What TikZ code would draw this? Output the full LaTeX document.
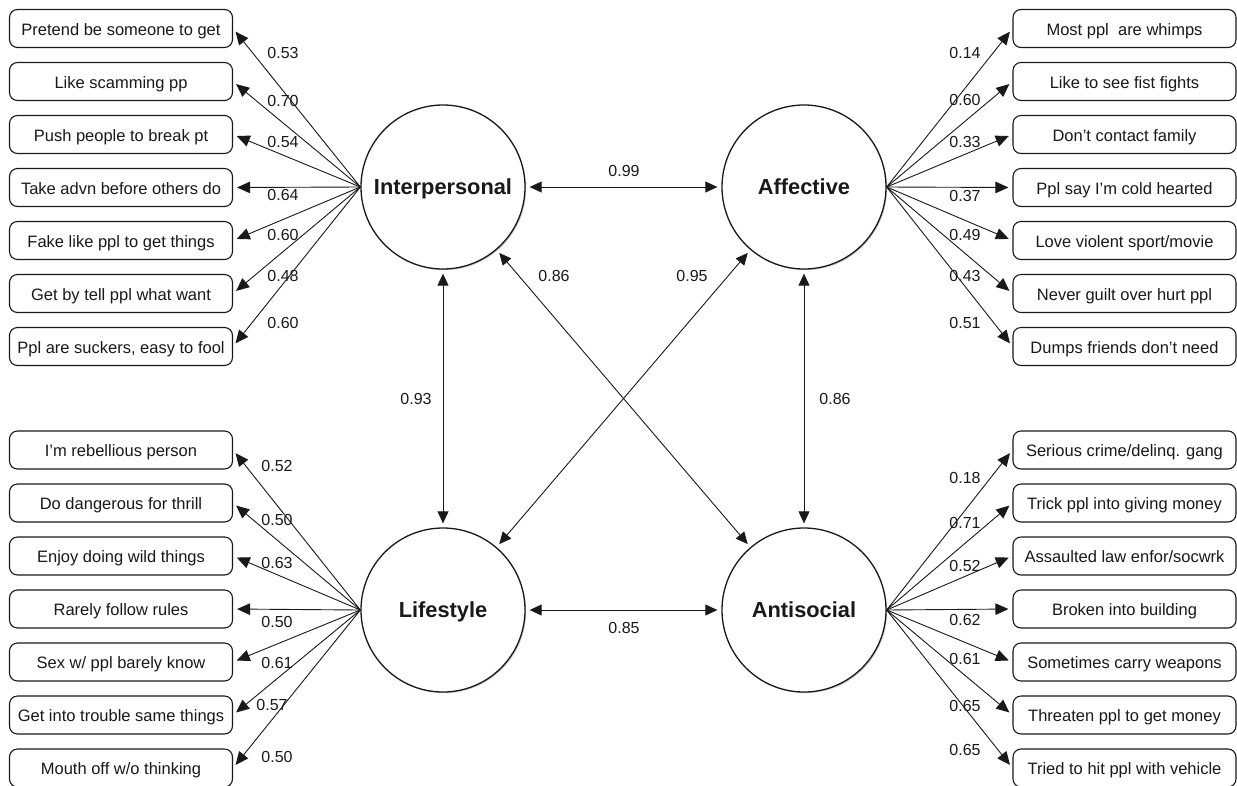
\documentclass[tikz,border=0pt]{standalone}
\usepackage{fontspec}
\setmainfont{Liberation Sans}
\usetikzlibrary{arrows.meta,shadows}
\begin{document}
\begin{tikzpicture}[x=1pt,y=-1pt,
  latent/.style={circle, draw=black!90, line width=1.3pt, fill=white, minimum size=164pt, inner sep=0pt,
    text height=18pt, text depth=3pt,
    font=\fontsize{21.8}{26}\selectfont\bfseries, text=black!90,
    drop shadow={shadow xshift=1.2pt, shadow yshift=-1.2pt, fill=black!40, opacity=0.5}},
  item/.style={draw=black!90, line width=1.1pt, rounded corners=8pt, minimum width=223pt, minimum height=38pt,
    inner sep=0pt, text height=17pt, text depth=4pt,
    font=\fontsize{16.5}{19}\selectfont, text=black!90, fill=white},
  load/.style={-{Triangle[length=13pt,width=11.5pt]}, line width=0.9pt, draw=black!90, shorten >=4pt},
  cov/.style={{Triangle[length=12pt,width=11pt]}-{Triangle[length=12pt,width=11pt]}, line width=0.9pt,
    draw=black!90, shorten >=4pt, shorten <=4pt},
  num/.style={font=\fontsize{16}{19}\selectfont, text=black!90, inner sep=0pt}
]
\useasboundingbox (0,0) rectangle (1237,785);

% latent factors
\node[latent] (I) at (443,187) {Interpersonal};
\node[latent] (A) at (804,187) {Affective};
\node[latent] (L) at (443,610) {Lifestyle};
\node[latent] (S) at (804,610) {Antisocial};

% upper-left items
\foreach \t [count=\k] in {Pretend be someone to get, Like scamming pp, Push people to break pt,
  Take advn before others do, Fake like ppl to get things, Get by tell ppl what want,
  {Ppl are suckers, easy to fool}}
  \node[item] (lu\k) at (121,{28.5+53*(\k-1)}) {\t};
% upper-right items
\foreach \t [count=\k] in {Most ppl\ \ are whimps, Like to see fist fights, Don’t contact family,
  Ppl say I’m cold hearted, Love violent sport/movie, Never guilt over hurt ppl, Dumps friends don’t need}
  \node[item] (ru\k) at (1124.5,{28.5+53*(\k-1)}) {\t};
% lower-left items
\foreach \t [count=\k] in {I’m rebellious person, Do dangerous for thrill, Enjoy doing wild things,
  Rarely follow rules, Sex w/ ppl barely know, Get into trouble same things, Mouth off w/o thinking}
  \node[item] (ll\k) at (121,{450+53*(\k-1)}) {\t};
% lower-right items
\foreach \t [count=\k] in {Serious crime/delinq. gang, Trick ppl into giving money, Assaulted law enfor/socwrk,
  Broken into building, Sometimes carry weapons, Threaten ppl to get money, Tried to hit ppl with vehicle}
  \node[item] (rl\k) at (1124.5,{450+53*(\k-1)}) {\t};

% loadings
\foreach \k in {1,...,7} {
  \draw[load] (I.west) -- (lu\k.east);
  \draw[load] (A.east) -- (ru\k.west);
  \draw[load] (L.west) -- (ll\k.east);
  \draw[load] (S.east) -- (rl\k.west);
}

% loading labels
\foreach \v/\y [count=\k] in {0.53/53, 0.70/101, 0.54/142, 0.64/195, 0.60/235, 0.48/276, 0.60/323}
  \node[num] (nlu\k) at (283,\y) {\v};
\foreach \v/\y [count=\k] in {0.14/53, 0.60/100, 0.33/142, 0.37/196, 0.49/235, 0.43/276, 0.51/323}
  \node[num] (nru\k) at (965,\y) {\v};
\foreach \v/\x/\y [count=\k] in {0.52/277/466, 0.50/277/520, 0.63/277/563, 0.50/277/622, 0.61/277/663, 0.57/272/705, 0.50/277/757}
  \node[num] (nll\k) at (\x,\y) {\v};
\foreach \v/\y [count=\k] in {0.18/478, 0.71/523, 0.52/566, 0.62/620, 0.61/659, 0.65/706, 0.65/750}
  \node[num] (nrl\k) at (965,\y) {\v};

% factor covariances
\draw[cov] (I) -- (A);
\draw[cov] (L) -- (S);
\draw[cov] (I) -- (L);
\draw[cov] (A) -- (S);
\draw[cov] (I) -- (S);
\draw[cov] (A) -- (L);

\node[num] (cIA) at (624,171) {0.99};
\node[num] (cIS) at (554,276) {0.86};
\node[num] (cAL) at (692,276) {0.95};
\node[num] (cIL) at (416,399) {0.93};
\node[num] (cAS) at (835,399) {0.86};
\node[num] (cLS) at (624,628) {0.85};
\end{tikzpicture}
\end{document}
